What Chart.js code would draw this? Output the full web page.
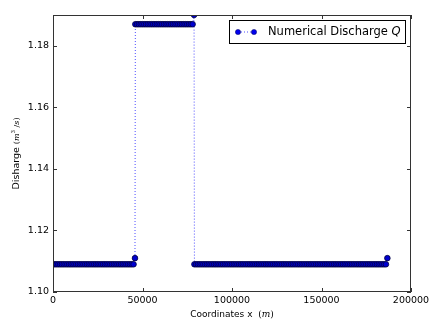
<!DOCTYPE html>
<html>
<head>
<meta charset="utf-8">
<script src="https://cdn.jsdelivr.net/npm/chart.js@4.4.1/dist/chart.umd.min.js"></script>
<style>
  html, body { margin: 0; padding: 0; background: #ffffff; }
  #wrap { width: 430px; height: 320px; }
</style>
</head>
<body>
<div id="wrap"><canvas id="c" width="430" height="320"></canvas></div>
<script>
// Coordinates x (m)
const xCoords = [
  0, 1000, 2000, 3000, 4000, 5000, 6000, 7000, 8000, 9000,
  10000, 11000, 12000, 13000, 14000, 15000, 16000, 17000, 18000, 19000,
  20000, 21000, 22000, 23000, 24000, 25000, 26000, 27000, 28000, 29000,
  30000, 31000, 32000, 33000, 34000, 35000, 36000, 37000, 38000, 39000,
  40000, 41000, 42000, 43000, 44000, 45000,
  45800,
  46000, 47000, 48000, 49000, 50000, 51000, 52000, 53000, 54000, 55000,
  56000, 57000, 58000, 59000, 60000, 61000, 62000, 63000, 64000, 65000,
  66000, 67000, 68000, 69000, 70000, 71000, 72000, 73000, 74000, 75000,
  76000, 77000, 78000,
  78800,
  79000, 80000, 81000, 82000, 83000, 84000, 85000, 86000, 87000, 88000,
  89000, 90000, 91000, 92000, 93000, 94000, 95000, 96000, 97000, 98000,
  99000, 100000, 101000, 102000, 103000, 104000, 105000, 106000, 107000, 108000,
  109000, 110000, 111000, 112000, 113000, 114000, 115000, 116000, 117000, 118000,
  119000, 120000, 121000, 122000, 123000, 124000, 125000, 126000, 127000, 128000,
  129000, 130000, 131000, 132000, 133000, 134000, 135000, 136000, 137000, 138000,
  139000, 140000, 141000, 142000, 143000, 144000, 145000, 146000, 147000, 148000,
  149000, 150000, 151000, 152000, 153000, 154000, 155000, 156000, 157000, 158000,
  159000, 160000, 161000, 162000, 163000, 164000, 165000, 166000, 167000, 168000,
  169000, 170000, 171000, 172000, 173000, 174000, 175000, 176000, 177000, 178000,
  179000, 180000, 181000, 182000, 183000, 184000, 185000, 186000,
  186800
];
// Numerical discharge Q (m^3/s)
const discharge = [
  1.109, 1.109, 1.109, 1.109, 1.109, 1.109, 1.109, 1.109, 1.109, 1.109,
  1.109, 1.109, 1.109, 1.109, 1.109, 1.109, 1.109, 1.109, 1.109, 1.109,
  1.109, 1.109, 1.109, 1.109, 1.109, 1.109, 1.109, 1.109, 1.109, 1.109,
  1.109, 1.109, 1.109, 1.109, 1.109, 1.109, 1.109, 1.109, 1.109, 1.109,
  1.109, 1.109, 1.109, 1.109, 1.109, 1.109,
  1.111,
  1.187, 1.187, 1.187, 1.187, 1.187, 1.187, 1.187, 1.187, 1.187, 1.187,
  1.187, 1.187, 1.187, 1.187, 1.187, 1.187, 1.187, 1.187, 1.187, 1.187,
  1.187, 1.187, 1.187, 1.187, 1.187, 1.187, 1.187, 1.187, 1.187, 1.187,
  1.187, 1.187, 1.187,
  1.190,
  1.109, 1.109, 1.109, 1.109, 1.109, 1.109, 1.109, 1.109, 1.109, 1.109,
  1.109, 1.109, 1.109, 1.109, 1.109, 1.109, 1.109, 1.109, 1.109, 1.109,
  1.109, 1.109, 1.109, 1.109, 1.109, 1.109, 1.109, 1.109, 1.109, 1.109,
  1.109, 1.109, 1.109, 1.109, 1.109, 1.109, 1.109, 1.109, 1.109, 1.109,
  1.109, 1.109, 1.109, 1.109, 1.109, 1.109, 1.109, 1.109, 1.109, 1.109,
  1.109, 1.109, 1.109, 1.109, 1.109, 1.109, 1.109, 1.109, 1.109, 1.109,
  1.109, 1.109, 1.109, 1.109, 1.109, 1.109, 1.109, 1.109, 1.109, 1.109,
  1.109, 1.109, 1.109, 1.109, 1.109, 1.109, 1.109, 1.109, 1.109, 1.109,
  1.109, 1.109, 1.109, 1.109, 1.109, 1.109, 1.109, 1.109, 1.109, 1.109,
  1.109, 1.109, 1.109, 1.109, 1.109, 1.109, 1.109, 1.109, 1.109, 1.109,
  1.109, 1.109, 1.109, 1.109, 1.109, 1.109, 1.109, 1.109,
  1.111
];
const xTicks = [0, 50000, 100000, 150000, 200000];
const yTicks = [1.10, 1.12, 1.14, 1.16, 1.18];
const seriesLabel = "Numerical Discharge ";
const seriesSymbol = "Q";
const xTitle = "Coordinates x  ";
const xUnit = "m";
const yTitle = "Disharge ";

const FONT = "'DejaVu Sans', 'Liberation Sans', sans-serif";
const SERIF = "'DejaVu Serif', 'Liberation Serif', serif";

const points = xCoords.map((x, i) => ({ x: x, y: discharge[i] }));

const decor = {
  id: 'decor',
  afterDraw(chart) {
    const ctx = chart.ctx;
    const a = chart.chartArea;
    const xs = chart.scales.x, ys = chart.scales.y;
    ctx.save();
    // frame
    ctx.strokeStyle = '#333';
    ctx.lineWidth = 1;
    ctx.strokeRect(Math.round(a.left) + 0.5, Math.round(a.top) + 0.5,
                   Math.round(a.right - a.left) - 1, Math.round(a.bottom - a.top) - 1);
    // inward ticks
    const tl = 4;
    ctx.beginPath();
    xTicks.forEach(v => {
      const px = Math.round(xs.getPixelForValue(v)) + 0.5;
      ctx.moveTo(px, a.bottom); ctx.lineTo(px, a.bottom - tl);
      ctx.moveTo(px, a.top); ctx.lineTo(px, a.top + tl);
    });
    yTicks.forEach(v => {
      const py = Math.round(ys.getPixelForValue(v)) + 0.5;
      ctx.moveTo(a.left, py); ctx.lineTo(a.left + tl, py);
      ctx.moveTo(a.right, py); ctx.lineTo(a.right - tl, py);
    });
    ctx.stroke();

    // x title
    ctx.fillStyle = '#000';
    ctx.textBaseline = 'middle';
    ctx.font = `9px ${FONT}`;
    const w1 = ctx.measureText(xTitle).width;
    ctx.font = `9px ${SERIF}`;
    const wp = ctx.measureText('(').width;
    ctx.font = `italic 9px ${SERIF}`;
    const wm = ctx.measureText(xUnit).width;
    const total = w1 + wp * 2 + wm;
    let x0 = (a.left + a.right) / 2 - total / 2;
    const ty = 315;
    ctx.textAlign = 'left';
    ctx.font = `9px ${FONT}`; ctx.fillText(xTitle, x0, ty); x0 += w1;
    ctx.font = `9px ${SERIF}`; ctx.fillText('(', x0, ty); x0 += wp;
    ctx.font = `italic 9px ${SERIF}`; ctx.fillText(xUnit, x0, ty); x0 += wm;
    ctx.font = `9px ${SERIF}`; ctx.fillText(')', x0, ty);

    // y title (rotated)
    ctx.save();
    ctx.translate(17, (a.top + a.bottom) / 2);
    ctx.rotate(-Math.PI / 2);
    const parts = [
      { t: yTitle, f: `9.5px ${FONT}`, dy: 0 },
      { t: '(', f: `8px ${SERIF}`, dy: 0 },
      { t: 'm', f: `italic 8px ${SERIF}`, dy: 0 },
      { t: '3', f: `5.5px ${SERIF}`, dy: -3 },
      { t: ' /', f: `8px ${SERIF}`, dy: 0 },
      { t: 's', f: `italic 8px ${SERIF}`, dy: 0 },
      { t: ')', f: `8px ${SERIF}`, dy: 0 }
    ];
    let tw = 0;
    parts.forEach(p => { ctx.font = p.f; p.w = ctx.measureText(p.t).width; tw += p.w; });
    let px = -tw / 2;
    parts.forEach(p => { ctx.font = p.f; ctx.fillText(p.t, px, p.dy); px += p.w; });
    ctx.restore();

    // legend
    const lx = 229.5, ly = 20.5, lw = 176, lh = 23;
    ctx.fillStyle = '#fff';
    ctx.fillRect(lx, ly, lw, lh);
    ctx.strokeStyle = '#000';
    ctx.lineWidth = 1;
    ctx.strokeRect(lx, ly, lw, lh);
    const my = 32;
    ctx.strokeStyle = 'rgba(0,0,255,0.7)';
    ctx.setLineDash([1, 2]);
    ctx.beginPath(); ctx.moveTo(238, my); ctx.lineTo(254, my); ctx.stroke();
    ctx.setLineDash([]);
    [238, 254].forEach(cx => {
      ctx.beginPath(); ctx.arc(cx, my, 2.6, 0, Math.PI * 2);
      ctx.fillStyle = '#0000ee'; ctx.fill();
      ctx.strokeStyle = '#000060'; ctx.lineWidth = 0.5; ctx.stroke();
    });
    ctx.fillStyle = '#000';
    ctx.textAlign = 'left';
    ctx.textBaseline = 'middle';
    ctx.font = `11.5px ${FONT}`;
    ctx.fillText(seriesLabel, 268, my);
    const wl = ctx.measureText(seriesLabel).width;
    ctx.font = `italic 11.5px ${FONT}`;
    ctx.fillText(seriesSymbol, 268 + wl, my);
    ctx.restore();
  }
};

new Chart(document.getElementById('c'), {
  type: 'line',
  data: {
    datasets: [{
      label: seriesLabel + seriesSymbol,
      data: points,
      borderColor: 'rgba(0,0,255,0.7)',
      borderWidth: 1,
      borderDash: [1, 2],
      pointRadius: 2.8,
      pointBackgroundColor: '#0000d0',
      pointBorderColor: '#00003c',
      pointBorderWidth: 0.8,
      tension: 0
    }]
  },
  options: {
    responsive: false,
    animation: false,
    layout: { padding: { top: 15, right: 19, left: 0, bottom: 0 } },
    plugins: { legend: { display: false }, tooltip: { enabled: false } },
    scales: {
      x: {
        type: 'linear',
        min: 0, max: 200000,
        grid: { display: false, drawTicks: false },
        border: { display: false },
        afterBuildTicks: s => { s.ticks = xTicks.map(v => ({ value: v })); },
        afterFit: s => { s.height = 28; s.paddingLeft = 0; s.paddingRight = 0; },
        ticks: {
          padding: 3,
          color: '#000',
          font: { family: FONT, size: 9.5 },
          maxRotation: 0,
          callback: v => String(v)
        }
      },
      y: {
        min: 1.10, max: 1.19,
        grid: { display: false, drawTicks: false },
        border: { display: false },
        afterBuildTicks: s => { s.ticks = yTicks.map(v => ({ value: v })); },
        afterFit: s => { s.width = 53; s.paddingTop = 0; s.paddingBottom = 0; },
        ticks: {
          padding: 4,
          color: '#000',
          font: { family: FONT, size: 9.5 },
          callback: v => Number(v).toFixed(2)
        }
      }
    }
  },
  plugins: [decor]
});
</script>
</body>
</html>
